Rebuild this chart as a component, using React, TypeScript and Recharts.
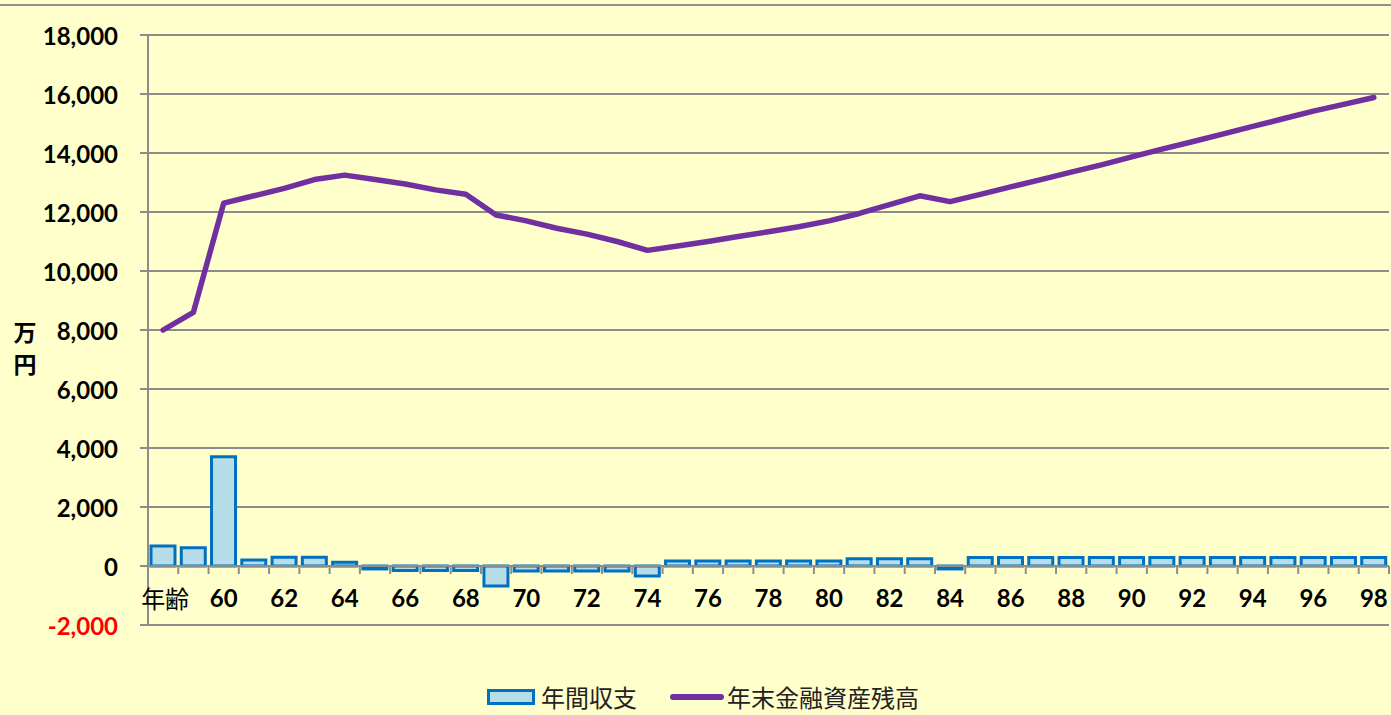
import React from 'react';
import { ComposedChart, Bar, Line, XAxis, YAxis, CartesianGrid, Legend, ReferenceLine } from 'recharts';

// ---- data ----
const ages = [58, 59, 60, 61, 62, 63, 64, 65, 66, 67, 68, 69, 70, 71, 72, 73, 74, 75, 76, 77, 78, 79, 80, 81, 82, 83, 84, 85, 86, 87, 88, 89, 90, 91, 92, 93, 94, 95, 96, 97, 98];
const annualBalance = [680, 620, 3700, 200, 300, 300, 130, -100, -150, -150, -150, -680, -170, -170, -170, -170, -340, 170, 170, 170, 170, 170, 170, 250, 250, 250, -100, 290, 290, 290, 290, 290, 290, 290, 290, 290, 290, 290, 290, 290, 290];
const yearEndAssets = [8000, 8600, 12300, 12550, 12800, 13100, 13250, 13100, 12950, 12750, 12600, 11900, 11700, 11450, 11250, 11000, 10700, 10850, 11000, 11170, 11330, 11500, 11700, 11950, 12250, 12550, 12350, 12600, 12850, 13100, 13350, 13600, 13870, 14130, 14380, 14640, 14900, 15160, 15420, 15650, 15880];
const yTicks = [-2000, 0, 2000, 4000, 6000, 8000, 10000, 12000, 14000, 16000, 18000];
const firstAgeLabel = '年齢';
const seriesNames = ['年間収支', '年末金融資産残高'];
const yAxisTitle = ['万', '円'];

const data = ages.map((age, i) => ({ age, balance: annualBalance[i], assets: yearEndAssets[i] }));

// ---- layout / style ----
const W = 1391;
const H = 715;
const M_TOP = 35;
const M_RIGHT = 2;
const Y_AXIS_W = 148;
const LEGEND_H = 36;
const X_AXIS_H = 90 - LEGEND_H;
const PLOT_TOP = M_TOP;
const PLOT_BOTTOM = H - X_AXIS_H - LEGEND_H;
const Y_MIN = -2000;
const Y_MAX = 18000;
const zeroY = PLOT_BOTTOM - ((0 - Y_MIN) / (Y_MAX - Y_MIN)) * (PLOT_BOTTOM - PLOT_TOP);

const GRID = '#8c8c8c';
const BAR_FILL = '#B7DDE8';
const BAR_STROKE = '#0070C0';
const LINE_COLOR = '#7030A0';
const NUM_FONT = 'Lato, "Noto Sans", sans-serif';
const JP_FONT = '"Noto Sans CJK JP", sans-serif';

const YTick = (props: any) => {
  const { x, y, payload } = props;
  const v = payload.value as number;
  return (
    <text x={x} y={y} textAnchor="end" dominantBaseline="central" fill={v < 0 ? '#FF0000' : '#000'}
      fontFamily={NUM_FONT} fontWeight="bold" fontSize={24}>
      {v.toLocaleString('en-US')}
    </text>
  );
};

const XTick = (props: any) => {
  const { x, payload, index } = props;
  const age = payload.value as number;
  const half = (W - M_RIGHT - Y_AXIS_W) / ages.length / 2;
  const label = index === 0 ? firstAgeLabel : age % 2 === 0 ? String(age) : '';
  const isLast = index === ages.length - 1;
  return (
    <g>
      <line x1={x - half} x2={x - half} y1={zeroY} y2={zeroY + 8} stroke={GRID} strokeWidth={2} />
      {isLast && <line x1={x + half} x2={x + half} y1={zeroY} y2={zeroY + 8} stroke={GRID} strokeWidth={2} />}
      {label && (
        <text x={x + (index === 0 ? 2 : 0)} y={zeroY + 31} textAnchor="middle" dominantBaseline="central"
          fill="#000"
          fontFamily={index === 0 ? JP_FONT : NUM_FONT}
          fontWeight={index === 0 ? 'normal' : 'bold'}
          fontSize={24}>
          {label}
        </text>
      )}
    </g>
  );
};

const LegendContent = () => (
  <div style={{ display: 'flex', alignItems: 'center', height: LEGEND_H, lineHeight: `${LEGEND_H}px`, marginLeft: 487, fontFamily: JP_FONT, fontSize: 24, color: '#222' }}>
    <span style={{ display: 'inline-block', width: 42, height: 10, background: BAR_FILL, border: `3px solid ${BAR_STROKE}`, marginRight: 6 }} />
    <span>{seriesNames[0]}</span>
    <span style={{ display: 'inline-block', width: 54, height: 6, borderRadius: 3, background: LINE_COLOR, marginLeft: 33, marginRight: 3 }} />
    <span>{seriesNames[1]}</span>
  </div>
);

const YTitle = () => (
  <text textAnchor="middle" dominantBaseline="central" fontFamily={JP_FONT} fontWeight="bold" fontSize={23} fill="#000">
    <tspan x={25} y={331}>{yAxisTitle[0]}</tspan>
    <tspan x={25} y={363}>{yAxisTitle[1]}</tspan>
  </text>
);

export default function App() {
  return (
    <div style={{ position: 'relative', width: W, height: H, background: '#FFFFCC', overflow: 'hidden' }}>
      <style>{`body{margin:0;}`}</style>
      <div style={{ position: 'absolute', left: 0, top: 4, width: W, height: 2, background: '#909090' }} />
      <ComposedChart width={W} height={H} data={data} margin={{ top: M_TOP, right: M_RIGHT, left: 0, bottom: 0 }}>
        <CartesianGrid vertical={false} stroke={GRID} strokeWidth={2} />
        <XAxis dataKey="age" interval={0} height={X_AXIS_H} axisLine={false} tickLine={false} tickSize={0} tickMargin={0} tick={<XTick />} />
        <YAxis domain={[Y_MIN, Y_MAX]} ticks={yTicks} width={Y_AXIS_W} allowDataOverflow
          axisLine={{ stroke: GRID, strokeWidth: 2 }} tickLine={{ stroke: GRID, strokeWidth: 2 }}
          tickSize={8} tickMargin={22} tick={<YTick />} label={{ content: <YTitle /> }} />
        <ReferenceLine y={0} stroke={GRID} strokeWidth={2} />
        <Bar dataKey="balance" name={seriesNames[0]} fill={BAR_FILL} stroke={BAR_STROKE} strokeWidth={3} barSize={24} isAnimationActive={false} />
        <Line dataKey="assets" name={seriesNames[1]} type="linear" stroke={LINE_COLOR} strokeWidth={5.5} dot={false} activeDot={false}
          strokeLinecap="round" strokeLinejoin="round" isAnimationActive={false} />
        <Legend verticalAlign="bottom" height={LEGEND_H} content={<LegendContent />} wrapperStyle={{ bottom: 0, left: 0, width: W }} />
      </ComposedChart>
    </div>
  );
}
